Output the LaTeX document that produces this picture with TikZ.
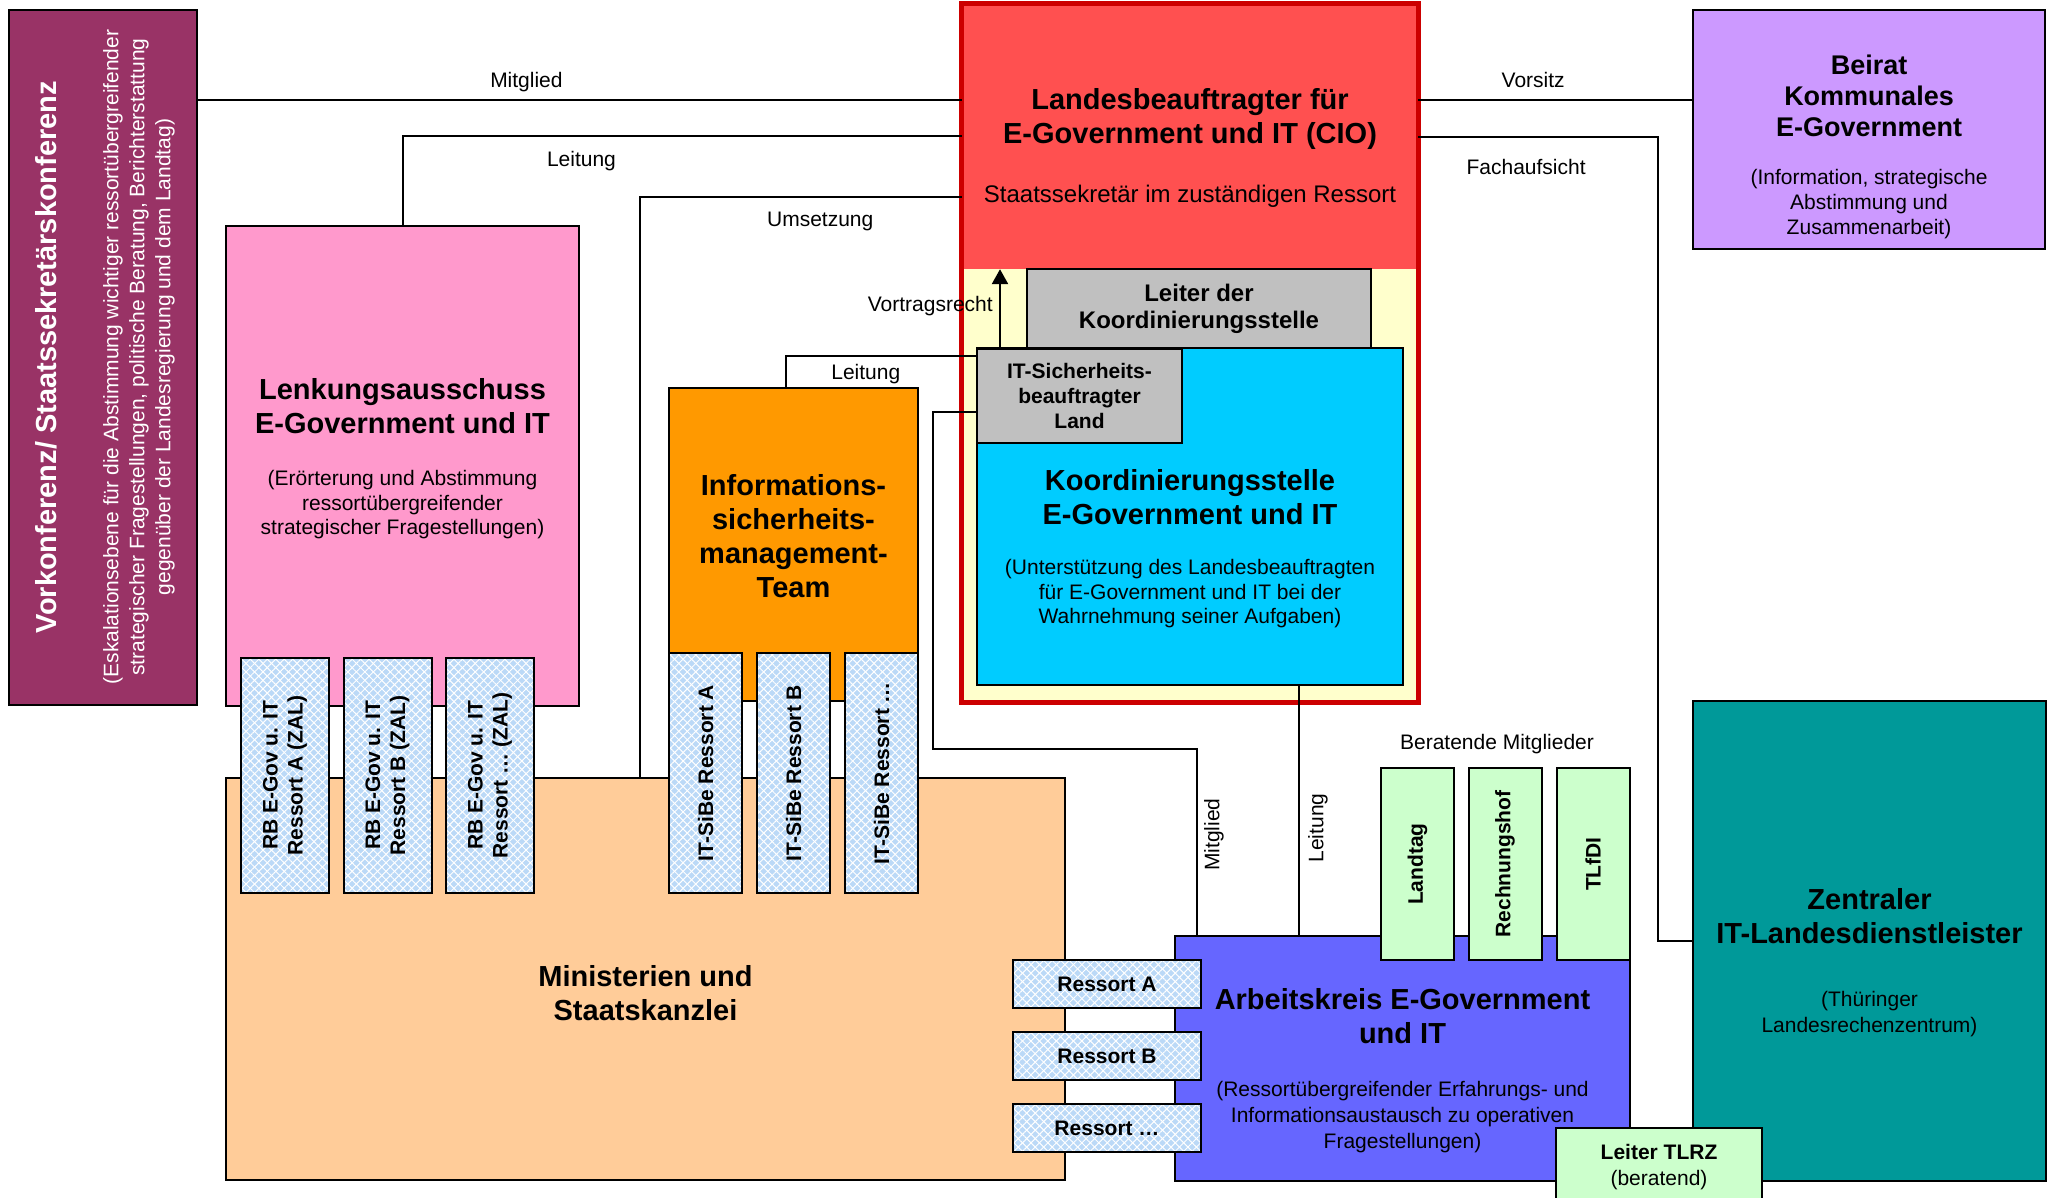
\documentclass[tikz,border=0pt]{standalone}
\usepackage{fontspec}
\setmainfont{Liberation Sans}
\usepackage{xcolor}
\usetikzlibrary{positioning,arrows.meta,patterns.meta}

\definecolor{vkplum}{HTML}{993366}
\definecolor{lenkpink}{HTML}{FF99CC}
\definecolor{minipeach}{HTML}{FFCC99}
\definecolor{ismorange}{HTML}{FF9900}
\definecolor{ciolight}{HTML}{FF5050}
\definecolor{ciored}{HTML}{CC0000}
\definecolor{cioyellow}{HTML}{FFFFCC}
\definecolor{greybox}{HTML}{C0C0C0}
\definecolor{kscyan}{HTML}{00CCFF}
\definecolor{beiratlila}{HTML}{CC99FF}
\definecolor{zitteal}{HTML}{009999}
\definecolor{akblue}{HTML}{6666FF}
\definecolor{beratgreen}{HTML}{CCFFCC}
\definecolor{hatchbg}{HTML}{BBD9F7}

\begin{document}
\begin{tikzpicture}[x=1pt, y=-1pt,
        box/.style={draw, line width=2pt, inner sep=0pt, align=center},
        hatch/.style={box, preaction={fill=hatchbg},
            preaction={pattern={Lines[angle=45,distance=6pt,line width=1pt]}, pattern color=white},
            preaction={pattern={Lines[angle=-45,distance=6pt,line width=1pt]}, pattern color=white}},
        ttl/.style={font=\fontsize{29}{34}\selectfont\bfseries, align=center, inner sep=0pt},
        sub/.style={font=\fontsize{21}{24.5}\selectfont, align=center, inner sep=0pt},
        bsm/.style={font=\fontsize{21}{25}\selectfont\bfseries},
        lab/.style={font=\fontsize{21}{25}\selectfont, inner sep=1pt},
        conn/.style={line width=2pt},
        arr/.style={line width=2.5pt, -{Triangle[width=16pt,length=15pt]}}
    ]
        \useasboundingbox (0,0) rectangle (2056,1198);

        % --- Left column: Vorkonferenz, Lenkungsausschuss, Ministerien ---
        \node[box, fill=vkplum, minimum width=188pt, minimum height=695pt] (vk) at (103,357.5) {};
        \node[ttl, text=white, rotate=90] (vk-t) at (46,357) {Vorkonferenz/ Staatssekretärskonferenz};
        \node[sub, text=white, rotate=90, font=\fontsize{21}{26}\selectfont] (vk-s) at (139,357)
            {(Eskalationsebene für die Abstimmung wichtiger ressortübergreifender\\
             strategischer Fragestellungen, politische Beratung, Berichterstattung\\
             gegenüber der Landesregierung und dem Landtag)};

        \node[box, fill=lenkpink, minimum width=353pt, minimum height=480pt] (lenk) at (402.5,466) {};
        \node[ttl] (lenk-t) at (402.5,406) {Lenkungsausschuss\\E-Government und IT};
        \node[sub] (lenk-s) at (402.5,505) {(Erörterung und Abstimmung\\ressortübergreifender\\strategischer Fragestellungen)};

        \node[box, fill=minipeach, minimum width=839pt, minimum height=402pt] (mini) at (645.5,979) {};
        \node[ttl] (mini-t) at (645.5,993) {Ministerien und\\Staatskanzlei};

        % RB boxes
        \node[hatch, bsm, rotate=90, minimum width=235pt, minimum height=88pt] (rb-a) at (285,775.5) {RB E-Gov u. IT\\Ressort A (ZAL)};
        \node[hatch, bsm, rotate=90, minimum width=235pt, minimum height=88pt] (rb-b) at (387.5,775.5) {RB E-Gov u. IT\\Ressort B (ZAL)};
        \node[hatch, bsm, rotate=90, minimum width=235pt, minimum height=88pt] (rb-c) at (490,775.5) {RB E-Gov u. IT\\Ressort … (ZAL)};

        % --- Informationssicherheitsmanagement-Team ---
        \node[box, fill=ismorange, minimum width=249pt, minimum height=313pt] (ism) at (793.5,544.5) {};
        \node[ttl] (ism-t) at (793.5,536) {Informations-\\sicherheits-\\management-\\Team};
        \node[hatch, bsm, rotate=90, minimum width=240pt, minimum height=73pt] (sibe-a) at (705.5,773) {IT-SiBe Ressort A};
        \node[hatch, bsm, rotate=90, minimum width=240pt, minimum height=73pt] (sibe-b) at (793.5,773) {IT-SiBe Ressort B};
        \node[hatch, bsm, rotate=90, minimum width=240pt, minimum height=73pt] (sibe-c) at (881.5,773) {IT-SiBe Ressort …};

        % --- CIO block ---
        \node[fill=cioyellow, minimum width=456pt, minimum height=698pt, inner sep=0pt] (cio) at (1190,353) {};
        \node[fill=ciolight, minimum width=456pt, minimum height=265pt, inner sep=0pt] (ciotop) at (1190,136.5) {};
        \draw[ciored, line width=5pt] (cio.north west) rectangle (cio.south east);
        \node[ttl] (cio-t) at (1190,119.5) {Landesbeauftragter für\\E-Government und IT (CIO)};
        \node[sub, font=\fontsize{24}{28}\selectfont] (cio-s) at (1190,196) {Staatssekretär im zuständigen Ressort};

        \node[box, fill=greybox, font=\fontsize{24}{27}\selectfont\bfseries, minimum width=344pt, minimum height=79pt] (leiter) at (1199,308.5) {Leiter der\\Koordinierungsstelle};
        \node[box, fill=kscyan, minimum width=426pt, minimum height=337pt] (ks) at (1190,516.5) {};
        \node[ttl] (ks-t) at (1190,497) {Koordinierungsstelle\\E-Government und IT};
        \node[sub] (ks-s) at (1190,594) {(Unterstützung des Landesbeauftragten\\für E-Government und IT bei der\\Wahrnehmung seiner Aufgaben)};
        \node[box, fill=greybox, bsm, minimum width=205pt, minimum height=94pt] (itsb) at (1079.5,396) {IT-Sicherheits-\\beauftragter\\Land};

        % --- Right column: Beirat, Zentraler IT-Landesdienstleister ---
        \node[box, fill=beiratlila, minimum width=352pt, minimum height=239pt] (beirat) at (1869,129.5) {};
        \node[ttl, font=\fontsize{27}{31}\selectfont\bfseries] (beirat-t) at (1869,95.5) {Beirat\\Kommunales\\E-Government};
        \node[sub, font=\fontsize{21}{25}\selectfont] (beirat-s) at (1869,204) {(Information, strategische\\Abstimmung und\\Zusammenarbeit)};

        \node[box, fill=zitteal, minimum width=353pt, minimum height=480pt] (zit) at (1869.5,941) {};
        \node[ttl] (zit-t) at (1869.5,916.5) {Zentraler\\IT-Landesdienstleister};
        \node[sub, font=\fontsize{21}{26}\selectfont] (zit-s) at (1869.5,1014) {(Thüringer\\Landesrechenzentrum)};

        % --- Arbeitskreis ---
        \node[box, fill=akblue, minimum width=455pt, minimum height=245pt] (ak) at (1402.5,1058.5) {};
        \node[ttl] (ak-t) at (1402.5,1016.5) {Arbeitskreis E-Government\\und IT};
        \node[sub, font=\fontsize{21}{26}\selectfont] (ak-s) at (1402.5,1117) {(Ressortübergreifender Erfahrungs- und\\Informationsaustausch zu operativen\\Fragestellungen)};

        \node[lab] (berat) at (1497,744.5) {Beratende Mitglieder};
        \node[box, fill=beratgreen, bsm, rotate=90, minimum width=192pt, minimum height=73pt] (landtag) at (1417.5,864) {Landtag};
        \node[box, fill=beratgreen, bsm, rotate=90, minimum width=192pt, minimum height=73pt] (rechnungshof) at (1505,864) {Rechnungshof};
        \node[box, fill=beratgreen, bsm, rotate=90, minimum width=192pt, minimum height=73pt] (tlfdi) at (1593,864) {TLfDI};

        \node[hatch, bsm, minimum width=188pt, minimum height=48pt] (ress-a) at (1107,984) {Ressort A};
        \node[hatch, bsm, minimum width=188pt, minimum height=48pt] (ress-b) at (1107,1056) {Ressort B};
        \node[hatch, bsm, minimum width=188pt, minimum height=48pt] (ress-c) at (1107,1128) {Ressort …};

        \node[box, fill=beratgreen, minimum width=206pt, minimum height=82pt] (tlrz) at (1659,1169) {};
        \node[sub, font=\fontsize{21}{26}\selectfont] (tlrz-t) at (1659,1167) {\textbf{Leiter TLRZ}\\(beratend)};

        % --- Connectors ---
        \draw[conn] (vk.east |- 0,100) -- node[lab, above=6pt, pos=0.43] (lab-mitglied) {Mitglied} (cio.west |- 0,100);
        \draw[conn] (cio.west |- 0,136) -| node[lab, below=13pt, pos=0.34] (lab-leitung) {Leitung} (lenk.north);
        \draw[conn] (cio.west |- 0,197) -| node[lab, below=13.5pt, pos=0.22] (lab-umsetzung) {Umsetzung} (mini.north -| 640,0);
        \draw[arr] (itsb.north -| 1000,0) -- node[lab, left=5pt, pos=0.53] (lab-vortrag) {Vortragsrecht} (ciotop.south -| 1000,0);
        \draw[conn] (itsb.west |- 0,356) -| node[lab, below=6pt, pos=0.29] (lab-leitung2) {Leitung} (ism.north -| 786,0);
        \draw[conn] (itsb.west |- 0,412) -| (933,749) -| node[lab, xshift=17pt, rotate=90, pos=0.73] (lab-mitglied2) {Mitglied} (ak.north -| 1197,0);
        \draw[conn] (ks.south -| 1299,0) -- node[lab, xshift=19pt, rotate=90, pos=0.57] (lab-leitung3) {Leitung} (ak.north -| 1299,0);
        \draw[conn] (cio.east |- 0,100) -- node[lab, above=10pt, pos=0.42] (lab-vorsitz) {Vorsitz} (beirat.west |- 0,100);
        \draw[conn] (cio.east |- 0,137) -| node[lab, below=20pt, pos=0.225] (lab-fach) {Fachaufsicht} (1658,941) -- (zit.west |- 0,941);
    \end{tikzpicture}
\end{document}
